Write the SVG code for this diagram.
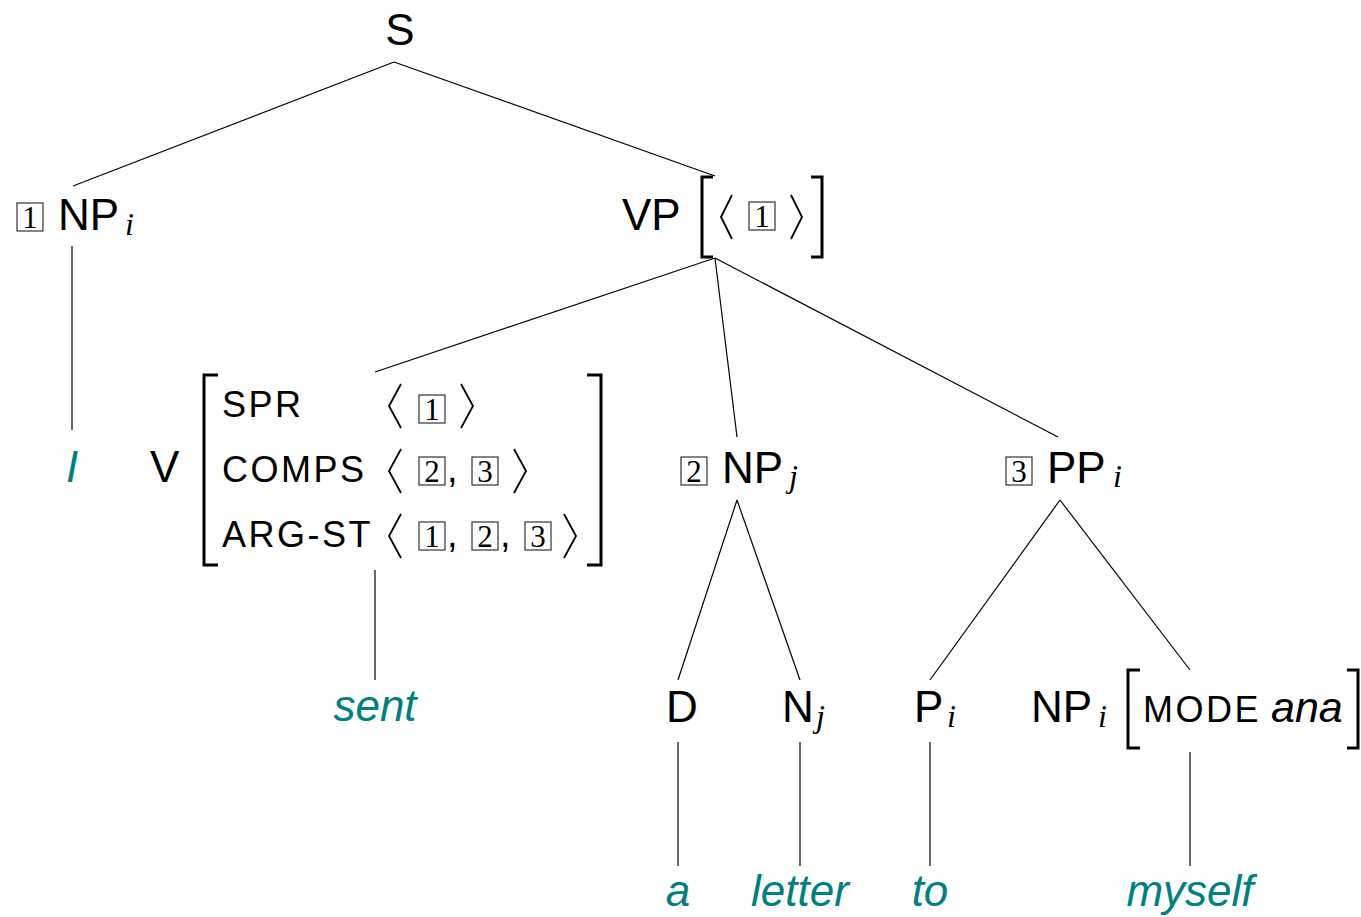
<svg xmlns="http://www.w3.org/2000/svg" width="1361" height="917" viewBox="0 0 1361 917">
<style>
.lab{font-family:"Liberation Sans",Arial,sans-serif;font-size:44px;fill:#000}
.feat{font-family:"Liberation Sans",Arial,sans-serif;font-size:36px;letter-spacing:2.5px;fill:#000}
.sub{font-family:"Liberation Serif","Times New Roman",serif;font-style:italic;font-size:32px;fill:#000}
.leaf{font-family:"Liberation Sans",Arial,sans-serif;font-style:italic;font-size:44px;fill:#008080;text-anchor:middle}
.ital{font-family:"Liberation Sans",Arial,sans-serif;font-style:italic;font-size:43px;fill:#000}
.box{fill:none;stroke:#333;stroke-width:1.2}
.num{font-family:"Liberation Serif","Times New Roman",serif;font-size:31px;text-anchor:middle;fill:#000}
.br{fill:none;stroke:#000;stroke-width:3}
.ang{fill:none;stroke:#000;stroke-width:1.8}
.edge{stroke:#000;stroke-width:1.2;fill:none}
.comma{font-family:"Liberation Sans",Arial,sans-serif;font-size:38px;fill:#000}
</style>
<defs>
<rect id="bx" class="box" x="-13" y="-14" width="26" height="28"/>
</defs>

<g id="connectors">
<line class="edge" x1="394" y1="62" x2="73" y2="186"/>
<line class="edge" x1="394" y1="62" x2="715" y2="176"/>
<line class="edge" x1="72" y1="246" x2="72" y2="430"/>
<line class="edge" x1="715" y1="258" x2="375" y2="372"/>
<line class="edge" x1="715" y1="258" x2="737" y2="437"/>
<line class="edge" x1="715" y1="258" x2="1058" y2="437"/>
<line class="edge" x1="375" y1="570" x2="375" y2="680"/>
<line class="edge" x1="737" y1="500" x2="678" y2="680"/>
<line class="edge" x1="737" y1="500" x2="800" y2="680"/>
<line class="edge" x1="1060" y1="500" x2="930" y2="680"/>
<line class="edge" x1="1060" y1="500" x2="1190" y2="670"/>
<line class="edge" x1="678" y1="742" x2="678" y2="866"/>
<line class="edge" x1="800" y1="742" x2="800" y2="866"/>
<line class="edge" x1="930" y1="742" x2="930" y2="866"/>
<line class="edge" x1="1190" y1="752" x2="1190" y2="866"/>
</g>

<g id="node-S">
<text class="lab" x="400" y="45" text-anchor="middle">S</text>
</g>

<g id="node-NPi">
<use href="#bx" x="30" y="217"/>
<text class="num" x="30" y="228">1</text>
<text class="lab" x="58" y="230">NP</text>
<text class="sub" x="125" y="235">i</text>
</g>

<g id="node-VP">
<text class="lab" x="622" y="230">VP</text>
<path class="br" d="M713,177 H702 V257 H713"/>
<polyline class="ang" points="732,195 721,217 732,239"/>
<use href="#bx" x="762" y="216"/>
<text class="num" x="762" y="227">1</text>
<polyline class="ang" points="791,195 802,217 791,239"/>
<path class="br" d="M811,177 H822 V257 H811"/>
</g>

<g id="node-I">
<text class="leaf" x="72" y="482">I</text>
</g>

<g id="node-V">
<text class="lab" x="150" y="482">V</text>
<path class="br" d="M218,375 H204 V565 H218"/>
<path class="br" d="M587,375 H601 V565 H587"/>
<text class="feat" x="222" y="417">SPR</text>
<text class="feat" x="222" y="482">COMPS</text>
<text class="feat" x="222" y="547">ARG-ST</text>
<polyline class="ang" points="401,384 389,406 401,428"/>
<use href="#bx" x="432" y="409"/>
<text class="num" x="432" y="420">1</text>
<polyline class="ang" points="461,384 473,406 461,428"/>
<polyline class="ang" points="401,449 389,471 401,493"/>
<use href="#bx" x="432" y="471"/>
<text class="num" x="432" y="482">2</text>
<text class="comma" x="447" y="482">,</text>
<use href="#bx" x="485" y="471"/>
<text class="num" x="485" y="482">3</text>
<polyline class="ang" points="514,449 526,471 514,493"/>
<polyline class="ang" points="401,514 389,536 401,558"/>
<use href="#bx" x="432" y="536"/>
<text class="num" x="432" y="547">1</text>
<text class="comma" x="447" y="547">,</text>
<use href="#bx" x="485" y="536"/>
<text class="num" x="485" y="547">2</text>
<text class="comma" x="500" y="547">,</text>
<use href="#bx" x="538" y="536"/>
<text class="num" x="538" y="547">3</text>
<polyline class="ang" points="564,514 576,536 564,558"/>
</g>

<g id="node-NPj">
<use href="#bx" x="694" y="471"/>
<text class="num" x="694" y="482">2</text>
<text class="lab" x="722" y="483">NP</text>
<text class="sub" x="789" y="487">j</text>
</g>

<g id="node-PPi">
<use href="#bx" x="1019" y="471"/>
<text class="num" x="1019" y="482">3</text>
<text class="lab" x="1047" y="483">PP</text>
<text class="sub" x="1113" y="487">i</text>
</g>

<g id="node-sent">
<text class="leaf" x="375" y="721">sent</text>
</g>

<g id="node-D">
<text class="lab" x="682" y="722" text-anchor="middle">D</text>
</g>

<g id="node-Nj">
<text class="lab" x="782" y="722">N</text>
<text class="sub" x="816" y="727">j</text>
</g>

<g id="node-Pi">
<text class="lab" x="914" y="722">P</text>
<text class="sub" x="947" y="727">i</text>
</g>

<g id="node-NPi-ana">
<text class="lab" x="1031" y="722">NP</text>
<text class="sub" x="1098" y="727">i</text>
<path class="br" d="M1140,670 H1128 V748 H1140"/>
<text class="feat" x="1143" y="722">MODE</text>
<text class="ital" x="1271" y="722">ana</text>
<path class="br" d="M1347,670 H1358 V748 H1347"/>
</g>

<g id="node-a"><text class="leaf" x="678" y="906">a</text></g>
<g id="node-letter"><text class="leaf" x="800" y="906">letter</text></g>
<g id="node-to"><text class="leaf" x="930" y="906">to</text></g>
<g id="node-myself"><text class="leaf" x="1190" y="906">myself</text></g>
</svg>
